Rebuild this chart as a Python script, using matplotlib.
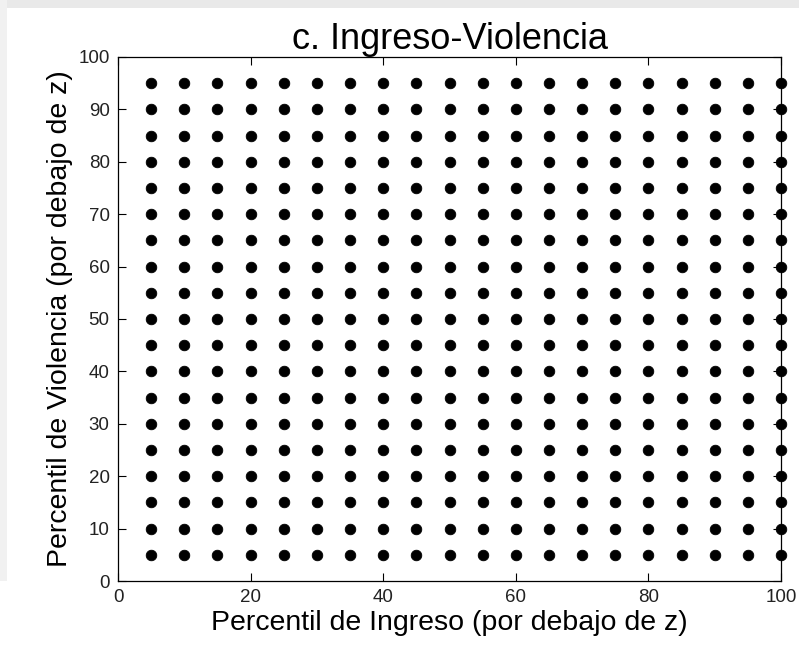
import numpy as np
import matplotlib.pyplot as plt
from matplotlib.patches import Rectangle

plt.rcParams['font.family'] = ['Liberation Sans', 'DejaVu Sans']

# percentiles used for the grid (income on x, violence on y)
ingreso = [5, 10, 15, 20, 25, 30, 35, 40, 45, 50, 55, 60, 65, 70, 75, 80, 85, 90, 95, 100]
violencia = [5, 10, 15, 20, 25, 30, 35, 40, 45, 50, 55, 60, 65, 70, 75, 80, 85, 90, 95]
xticks = [0, 20, 40, 60, 80, 100]
yticks = [0, 10, 20, 30, 40, 50, 60, 70, 80, 90, 100]

X, Y = np.meshgrid(ingreso, violencia)

fig = plt.figure(figsize=(7.99, 6.46), dpi=100, facecolor='white')
# grey frame strips along top and left edge
fig.patches.append(Rectangle((0, 1 - 8/646), 1, 8/646, transform=fig.transFigure,
                             facecolor='#e9e9e9', edgecolor='none', zorder=-1))
fig.patches.append(Rectangle((0, 0.1), 7/799, 0.9, transform=fig.transFigure,
                             facecolor='#f1f1f1', edgecolor='none', zorder=-1))

ax = fig.add_axes([118/799, 1 - 581/646, (781 - 118)/799, (581 - 57)/646])
ax.plot(X.ravel(), Y.ravel(), 'o', color='black', ms=7.6, mew=0.6, clip_on=False, zorder=3)

ax.set_xlim(0, 100)
ax.set_ylim(0, 100)
ax.set_xticks(xticks)
ax.set_yticks(yticks)
ax.tick_params(direction='in', length=6, width=0.8, top=True, right=True,
               labelsize=13.5, labelcolor='#222222', pad=6)
for s in ax.spines.values():
    s.set_linewidth(0.9)

ax.set_title('c. Ingreso-Violencia', fontsize=26, pad=6)
ax.set_xlabel('Percentil de Ingreso (por debajo de z)', fontsize=20.5, labelpad=3)
ax.set_ylabel('Percentil de Violencia (por debajo de z)', fontsize=20.5, labelpad=4)

fig.savefig('out.png', dpi=100, facecolor='white')
